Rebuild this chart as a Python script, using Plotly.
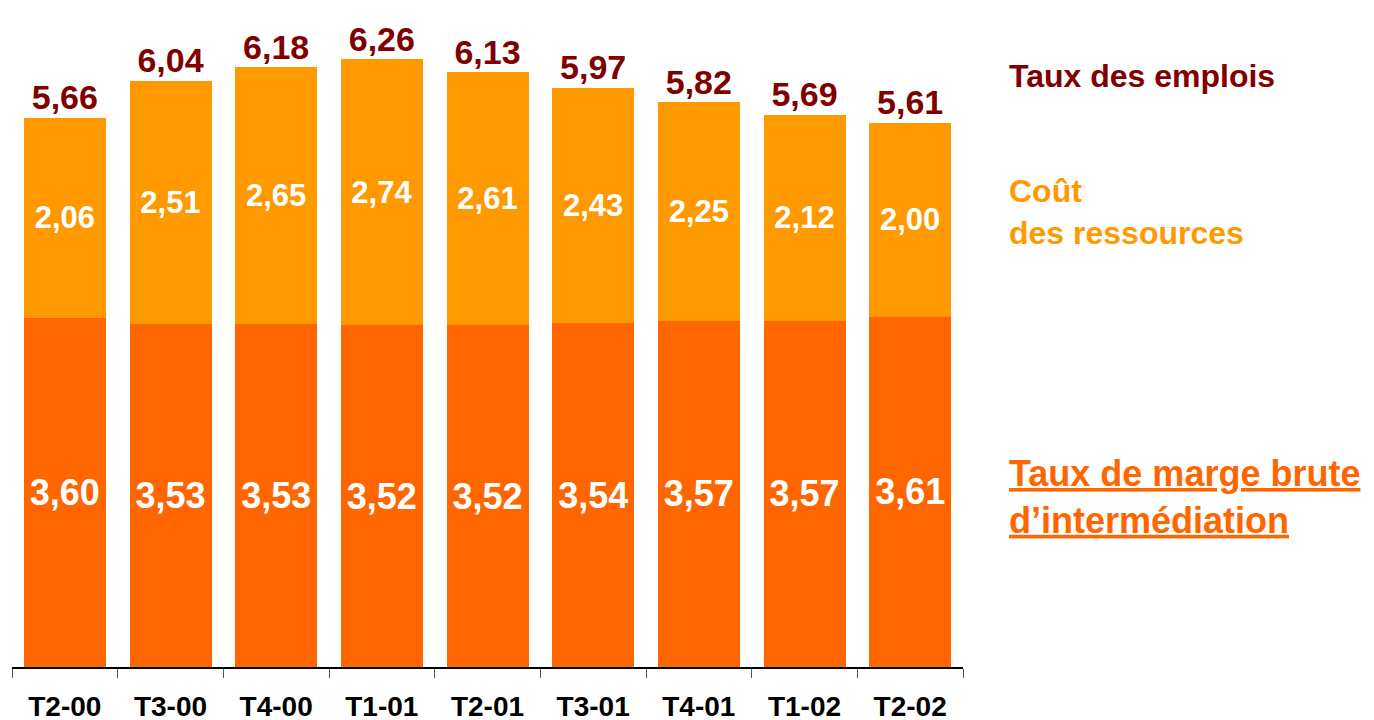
import plotly.graph_objects as go

# ------------------------------------------------------------------
# Data
# ------------------------------------------------------------------
trimestres = ["T2-00", "T3-00", "T4-00", "T1-01", "T2-01", "T3-01", "T4-01", "T1-02", "T2-02"]
marge_brute = [3.60, 3.53, 3.53, 3.52, 3.52, 3.54, 3.57, 3.57, 3.61]
cout_ressources = [2.06, 2.51, 2.65, 2.74, 2.61, 2.43, 2.25, 2.12, 2.00]
taux_emplois = [5.66, 6.04, 6.18, 6.26, 6.13, 5.97, 5.82, 5.69, 5.61]

FONT = "Arial, Liberation Sans, sans-serif"
DARK_RED = "#800000"
LIGHT_ORANGE = "#FF9900"
DARK_ORANGE = "#FF6600"


def fr(v):
    return f"{v:.2f}".replace(".", ",")


fig = go.Figure()

# bottom segment: taux de marge brute
fig.add_trace(go.Bar(
    x=trimestres, y=marge_brute,
    marker_color=DARK_ORANGE, marker_line_width=0,
    text=[fr(v) for v in marge_brute],
    textposition="inside", insidetextanchor="middle", textangle=0,
    constraintext="none",
    textfont=dict(family=FONT, size=36, color="white", weight="bold"),
    showlegend=False, hoverinfo="skip"))

# top segment: cout des ressources
fig.add_trace(go.Bar(
    x=trimestres, y=cout_ressources,
    marker_color=LIGHT_ORANGE, marker_line_width=0,
    text=[fr(v) for v in cout_ressources],
    textposition="inside", insidetextanchor="middle", textangle=0,
    constraintext="none",
    textfont=dict(family=FONT, size=31, color="white", weight="bold"),
    showlegend=False, hoverinfo="skip"))

# totals above the bars: taux des emplois
fig.add_trace(go.Scatter(
    x=trimestres, y=taux_emplois, mode="text",
    text=[fr(v) for v in taux_emplois], textposition="top center",
    textfont=dict(family=FONT, size=34, color=DARK_RED, weight="bold"),
    cliponaxis=False, showlegend=False, hoverinfo="skip"))

# right-hand labels
fig.add_annotation(
    xref="paper", yref="paper", x=1.046, y=0.90, xanchor="left", yanchor="middle",
    text="<b>Taux des emplois</b>", showarrow=False, align="left",
    font=dict(family=FONT, size=32, color=DARK_RED))
fig.add_annotation(
    xref="paper", yref="paper", x=1.046, y=0.692, xanchor="left", yanchor="middle",
    text="<b>Coût<br>des ressources</b>", showarrow=False, align="left",
    font=dict(family=FONT, size=32, color=LIGHT_ORANGE))
fig.add_annotation(
    xref="paper", yref="paper", x=1.046, y=0.258, xanchor="left", yanchor="middle",
    text="<b><u>Taux de marge brute</u><br><u>d’intermédiation</u></b>", showarrow=False, align="left",
    font=dict(family=FONT, size=36, color=DARK_ORANGE))

# the page body adds an 8px offset, so the margins are shifted to compensate
fig.update_layout(
    width=1374, height=720,
    barmode="stack", bargap=0.224,
    plot_bgcolor="white", paper_bgcolor="white",
    margin=dict(l=4, r=419, t=2, b=61, autoexpand=False),
    font=dict(family=FONT),
)
fig.update_xaxes(
    showline=True, linecolor="black", linewidth=2, automargin=False,
    ticks="outside", tickson="boundaries", ticklen=9, tickcolor="#555555", tickwidth=1,
    tickfont=dict(family=FONT, size=28, color="black", weight="bold"),
    ticklabelstandoff=13, showgrid=False)
fig.update_yaxes(range=[0, 6.77], visible=False, showgrid=False, automargin=False)

fig.write_html("out.html")
